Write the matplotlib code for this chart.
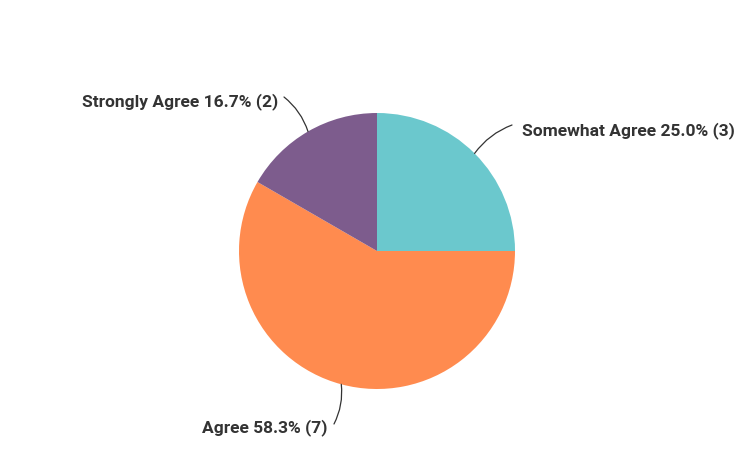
import numpy as np
import matplotlib as mpl
mpl.use('Agg')
import matplotlib.pyplot as plt

labels = ['Somewhat Agree', 'Agree', 'Strongly Agree']
counts = [3, 7, 2]
colors = ['#6BC8CD', '#FF8B4F', '#7D5C8D']

W, H = 754, 463
fig = plt.figure(figsize=(W / 100, H / 100), dpi=100)
ax = fig.add_axes([0, 0, 1, 1])

cx, cy, r = 377, H - 251, 138
wedges, _ = ax.pie(counts, colors=colors, startangle=90, counterclock=False,
                   center=(cx, cy), radius=r, wedgeprops=dict(linewidth=0))
ax.set_xlim(0, W)
ax.set_ylim(0, H)
ax.set_aspect('equal')
ax.axis('off')

total = sum(counts)
# text anchor, leader start (pixels from top-left), alignment, curvature
text_pos = [((522, 131), (512, 125), 'left', 0.15),
            ((328, 428), (334, 424), 'right', 0.15),
            ((278, 102), (284, 97), 'right', -0.15)]

for w, lab, n, (pos, start, ha, rad) in zip(wedges, labels, counts, text_pos):
    mid = np.deg2rad((w.theta1 + w.theta2) / 2)
    ex, ey = cx + r * np.cos(mid), cy + r * np.sin(mid)
    txt = f'{lab} {n / total * 100:.1f}% ({n})'
    ax.text(pos[0], H - pos[1], txt, ha=ha, va='center', fontsize=12.5,
            fontweight='bold', family='Roboto', color='#333333')
    ax.annotate('', xy=(ex, ey), xytext=(start[0], H - start[1]),
                arrowprops=dict(arrowstyle='-', color='#333333', lw=0.9,
                                shrinkA=0, shrinkB=0,
                                connectionstyle=f'arc3,rad={rad}'))

fig.savefig('out.png', dpi=100)
